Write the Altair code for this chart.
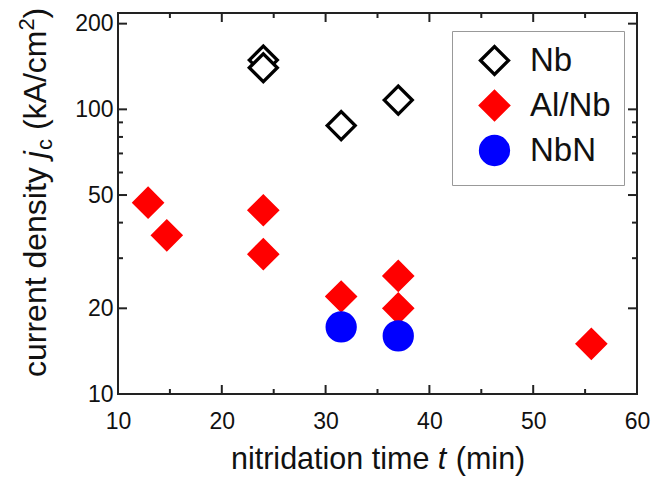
import altair as alt
import pandas as pd

FONT = "Liberation Sans"
INK = "#111111"

# ---- data ----
series_order = ["Nb", "Al/Nb", "NbN"]
nb_t = [24.0, 24.0, 31.5, 37.0]
nb_jc = [149.0, 140.0, 87.7, 107.8]
alnb_t = [12.9, 14.7, 24.0, 24.0, 31.5, 37.0, 37.0, 55.6]
alnb_jc = [47.0, 36.1, 44.2, 31.0, 22.0, 26.0, 20.0, 15.0]
nbn_t = [31.5, 37.0]
nbn_jc = [17.2, 16.0]

x_major = [10, 20, 30, 40, 50, 60]
x_minor = [15, 25, 35, 45, 55]
y_major = [10, 20, 50, 100, 200]
y_minor = [30, 40, 60, 70, 80, 90]

W, H = 519, 381

df = pd.DataFrame({
    "t": nb_t + alnb_t + nbn_t,
    "jc": nb_jc + alnb_jc + nbn_jc,
    "series": ["Nb"] * len(nb_t) + ["Al/Nb"] * len(alnb_t) + ["NbN"] * len(nbn_t),
})

xs = alt.Scale(domain=[10, 60], nice=False, zero=False)
ys = alt.Scale(type="log", domain=[10, 218], nice=False)

ax_x = alt.Axis(values=x_major, ticks=False, tickSize=0, domain=False, grid=False,
                title=None, labelFont=FONT, labelFontSize=23, labelColor=INK,
                labelPadding=16, labelFlush=False)
ax_y = alt.Axis(values=y_major, format="d", ticks=False, tickSize=0, domain=False,
                grid=False, title=None, labelFont=FONT, labelFontSize=23,
                labelColor=INK, labelPadding=5)

leg = alt.Legend(title=None, orient="none", legendX=334, legendY=18,
                 labelFont=FONT, labelFontSize=33, labelColor=INK,
                 padding=13, rowPadding=2, symbolOffset=13, labelOffset=19,
                 strokeColor="#999999", fillColor="white", symbolStrokeWidth=3.3)

points = alt.Chart(df).mark_point(opacity=1, strokeWidth=3.3, filled=False).encode(
    x=alt.X("t:Q", scale=xs, axis=ax_x),
    y=alt.Y("jc:Q", scale=ys, axis=ax_y),
    shape=alt.Shape("series:N", scale=alt.Scale(domain=series_order,
                    range=["diamond", "diamond", "circle"]), legend=leg),
    fill=alt.Fill("series:N", scale=alt.Scale(domain=series_order,
                  range=["white", "#ff0000", "#0000ff"]), legend=leg),
    stroke=alt.Stroke("series:N", scale=alt.Scale(domain=series_order,
                      range=["black", "#ff0000", "#0000ff"]), legend=leg),
    size=alt.Size("series:N", scale=alt.Scale(domain=series_order,
                  range=[784, 784, 420]), legend=leg),
)


def xticks(vals, length, top):
    d = pd.DataFrame({"t": vals})
    y1, y2 = (0, length) if top else (H, H - length)
    return alt.Chart(d).mark_rule(color="#222222", strokeWidth=2).encode(
        x=alt.X("t:Q", scale=xs, axis=ax_x), y=alt.value(y1), y2=alt.value(y2))


def yticks(vals, length, right):
    d = pd.DataFrame({"jc": vals})
    x1, x2 = (W, W - length) if right else (0, length)
    return alt.Chart(d).mark_rule(color="#222222", strokeWidth=2).encode(
        y=alt.Y("jc:Q", scale=ys, axis=ax_y), x=alt.value(x1), x2=alt.value(x2))


ticks = [
    xticks(x_major, 9, False), xticks(x_minor, 5, False),
    xticks(x_major, 9, True), xticks(x_minor, 5, True),
    yticks(y_major, 9, False), yticks(y_minor, 5, False),
    yticks(y_major, 9, True), yticks(y_minor, 5, True),
]

one = pd.DataFrame({"k": [0]})


def txt(s, x, y, size, angle=0, italic=False, align="left"):
    kw = dict(text=s, font=FONT, fontSize=size, color=INK, align=align,
              baseline="alphabetic")
    if angle:
        kw["angle"] = angle
    if italic:
        kw["fontStyle"] = "italic"
    return alt.Chart(one).mark_text(**kw).encode(x=alt.value(x), y=alt.value(y))


# y-axis title: current density j_c (kA/cm^2)
YB = -72
ytitle = [
    txt("current density", YB, 364, 32, 270),
    txt("j", YB, 145.2, 32, 270, italic=True),
    txt("c", YB + 6, 137, 22, 270),
    txt("(kA/cm", YB, 117.1, 32, 270),
    txt("2", YB - 12, 17.6, 22, 270),
    txt(")", YB, 5.4, 32, 270),
]

# x-axis title: nitridation time t (min)
XB = 456
xtitle = [
    txt("nitridation time", 113, XB, 30.5),
    txt("t", 319.8, XB, 30.5, italic=True),
    txt("(min)", 337.8, XB, 30.5),
]

chart = alt.layer(*ticks, points, *ytitle, *xtitle).properties(
    width=W, height=H,
    autosize=alt.AutoSizeParams(type="none"),
    padding={"left": 110, "top": 5, "right": 24, "bottom": 92},
).configure_view(stroke="#222222", strokeWidth=2)

chart.save("out.html", embed_options={"renderer": "svg", "actions": False})
